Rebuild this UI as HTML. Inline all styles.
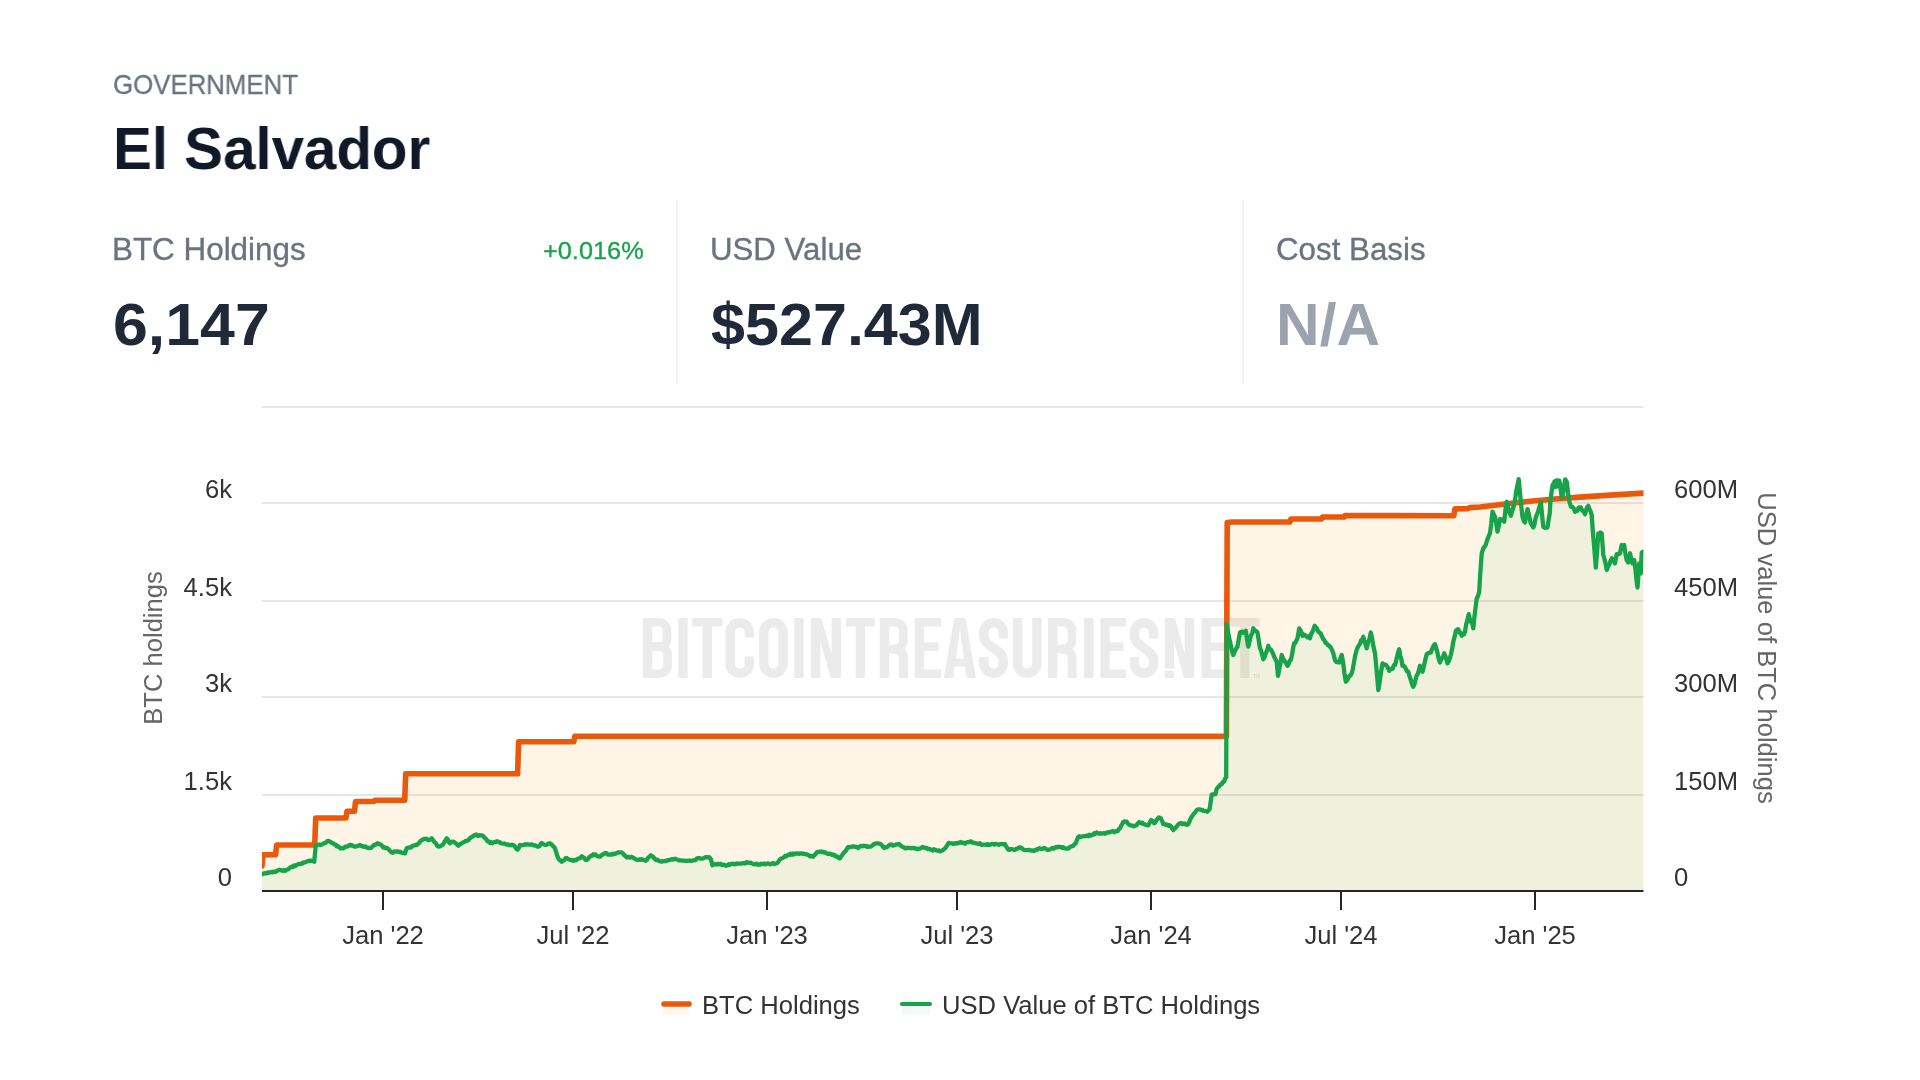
<!DOCTYPE html>
<html lang="en">
<head>
<meta charset="utf-8">
<title>El Salvador – Bitcoin Treasuries</title>
<style>
  html,body{margin:0;padding:0;background:#fff;}
  body{width:1920px;height:1080px;position:relative;overflow:hidden;font-family:"Liberation Sans",sans-serif;}
  .t{position:absolute;white-space:nowrap;line-height:1;transform-origin:0 0;}
  #cat{left:113px;top:70.6px;font-size:27.3px;color:#6b7280;-webkit-text-stroke:0.3px #6b7280;transform:scaleX(0.9457);}
  #name{left:113px;top:119px;font-size:60px;font-weight:bold;color:#111827;transform:scaleX(0.9705);}
  .lbl{font-size:31px;color:#6b7280;top:233.5px;-webkit-text-stroke:0.35px #6b7280;}
  .val{font-size:60px;font-weight:bold;color:#1f2937;top:295.2px;}
  #l1{transform:scaleX(1.0127);} #l2{transform:scaleX(1.007);} #l3{transform:scaleX(1.01);}
  #v1{transform:scaleX(1.044);} #v2{transform:scaleX(1.018);} #v3{transform:scaleX(1.007);}
  #pct{font-size:24px;color:#16a34a;top:239px;left:543px;transform:scaleX(1.055);-webkit-text-stroke:0.3px #16a34a;}
  .vd{position:absolute;top:200px;height:184px;width:2px;background:#f1f2f4;}
  svg{position:absolute;left:0;top:0;will-change:transform;}
  .t{will-change:transform;}
  svg text{font-family:"Liberation Sans",sans-serif;}
</style>
</head>
<body>
<div class="t" id="cat">GOVERNMENT</div>
<div class="t" id="name">El Salvador</div>

<div class="t lbl" id="l1" style="left:112.2px">BTC Holdings</div>
<div class="t" id="pct">+0.016%</div>
<div class="t val" id="v1" style="left:113px">6,147</div>
<div class="vd" style="left:676px"></div>
<div class="t lbl" id="l2" style="left:710.2px">USD Value</div>
<div class="t val" id="v2" style="left:711px">$527.43M</div>
<div class="vd" style="left:1242px"></div>
<div class="t lbl" id="l3" style="left:1276.4px">Cost Basis</div>
<div class="t val" id="v3" style="left:1276.2px;color:#9ca3af">N/A</div>

<svg width="1920" height="1080" viewBox="0 0 1920 1080">
  <!-- grid -->
  <g stroke="#e6e6e6" stroke-width="2" fill="none">
    <path d="M262 407H1643.5M262 503H1643.5M262 601H1643.5M262 697H1643.5M262 795H1643.5"/>
  </g>
  <!-- watermark -->
  <g id="wm" fill="#ebebeb" stroke="#ebebeb" stroke-linejoin="miter">
    <g transform="translate(642.9 618)"><path d="M0 0H9.4V60H0Z" stroke="none"/><path d="M8.4 4.3H15.499999999999998A8.6 8.6 0 0 1 24.099999999999998 12.899999999999999V21.299999999999997A7.1 7.1 0 0 1 15.499999999999998 28.4H8.4" fill="none" stroke-width="8.6"/><path d="M8.4 28.4H16.099999999999998A8.6 8.6 0 0 1 24.7 37.0V47.1A8.6 8.6 0 0 1 16.099999999999998 55.7H8.4" fill="none" stroke-width="8.6"/></g>
    <g transform="translate(678.3 618)"><path d="M0 0H9.4V60H0Z" stroke="none"/></g>
    <g transform="translate(692.25 618)"><path d="M0 0H30V8.6H19.7V60H10.3V8.6H0Z" stroke="none"/></g>
    <g transform="translate(725.4 618)"><path d="M24.0 19.5V14.349999999999998A9.649999999999999 9.649999999999999 0 0 0 4.7 14.349999999999998V45.65A9.649999999999999 9.649999999999999 0 0 0 24.0 45.65V38.5" fill="none" stroke-width="9.4"/></g>
    <g transform="translate(759.1 618)"><path d="M4.7 14.399999999999999A9.7 9.7 0 0 1 24.1 14.399999999999999V45.599999999999994A9.7 9.7 0 0 1 4.7 45.599999999999994Z" fill="none" stroke-width="9.4"/></g>
    <g transform="translate(794.2 618)"><path d="M0 0H9.4V60H0Z" stroke="none"/></g>
    <g transform="translate(811 618)"><path d="M0 0H10.200000000000001L20.6 36V0H30V60H19.8L9.4 24V60H0Z" stroke="none"/></g>
    <g transform="translate(846 618)"><path d="M0 0H28.7V8.6H19.05V60H9.649999999999999V8.6H0Z" stroke="none"/></g>
    <g transform="translate(879.75 618)"><path d="M0 0H9.4V60H0Z" stroke="none"/><path d="M8.4 4.3H14.999999999999998A8.6 8.6 0 0 1 23.599999999999998 12.899999999999999V22.4A8.6 8.6 0 0 1 14.999999999999998 31H8.4" fill="none" stroke-width="8.6"/><path d="M12.999999999999998 31Q23.799999999999997 31 23.799999999999997 41V60" fill="none" stroke-width="9.0"/></g>
    <g transform="translate(914.75 618)"><path d="M0 0H26.25V8.6H9.4V24.6H23.65V33H9.4V51.4H26.25V60H0Z" stroke="none"/></g>
    <g transform="translate(943.75 618)"><path fill-rule="evenodd" stroke="none" d="M0 60L10.525 0H21.725L32.25 60H22.85L21.35 48.4H10.9L9.4 60ZM12.1 40.4H20.15L16.125 11Z"/></g>
    <g transform="translate(979.1 618)"><path d="M24.1 20.5V14.399999999999999A9.7 9.7 0 0 0 4.7 14.399999999999999V18C4.7 29 24.1 31 24.1 42.5V45.599999999999994A9.7 9.7 0 0 1 4.7 45.599999999999994V39" fill="none" stroke-width="9.4"/></g>
    <g transform="translate(1012.9 618)"><path d="M4.7 0V45.65A9.649999999999999 9.649999999999999 0 0 0 24.0 45.65V0" fill="none" stroke-width="9.4"/></g>
    <g transform="translate(1047.9 618)"><path d="M0 0H9.4V60H0Z" stroke="none"/><path d="M8.4 4.3H15.4A8.6 8.6 0 0 1 24.0 12.899999999999999V22.4A8.6 8.6 0 0 1 15.4 31H8.4" fill="none" stroke-width="8.6"/><path d="M13.4 31Q24.2 31 24.2 41V60" fill="none" stroke-width="9.0"/></g>
    <g transform="translate(1084.1 618)"><path d="M0 0H9.4V60H0Z" stroke="none"/></g>
    <g transform="translate(1100.4 618)"><path d="M0 0H25.7V8.6H9.4V24.6H23.099999999999998V33H9.4V51.4H25.7V60H0Z" stroke="none"/></g>
    <g transform="translate(1129.75 618)"><path d="M23.8 20.5V14.25A9.55 9.55 0 0 0 4.7 14.25V18C4.7 29 23.8 31 23.8 42.5V45.75A9.55 9.55 0 0 1 4.7 45.75V39" fill="none" stroke-width="9.4"/></g>
    <g transform="translate(1164.75 618)"><path d="M0 0H10.200000000000001L19.950000000000003 36V0H29.35V60H19.150000000000002L9.4 24V60H0Z" stroke="none"/></g>
    <g transform="translate(1201.6 618)"><path d="M0 0H26V8.6H9.4V24.6H23.4V33H9.4V51.4H26V60H0Z" stroke="none"/></g>
    <g transform="translate(1230 618)"><path d="M0 0H29.75V8.6H19.575V60H10.175V8.6H0Z" stroke="none"/></g>
    <rect x="1163" y="668.6" width="11.2" height="2.2" fill="#fff" stroke="none"/>
    <text x="1253" y="677.5" font-size="5" font-weight="bold" stroke="none" fill="#e4e4e4">TM</text>
    </g>
  <defs><clipPath id="plot"><rect x="262" y="400" width="1381.5" height="492"/></clipPath></defs>
  <!-- series -->
  <g clip-path="url(#plot)">
  <path d="M262.0 866.0 L263.0 854.8 L275.6 854.8 L276.6 845.0 L314.7 845.0 L315.7 818.0 L346.0 818.0 L347.0 811.3 L354.5 811.3 L355.5 801.5 L373.8 801.5 L374.8 800.2 L404.7 800.2 L405.7 773.8 L517.6 773.8 L518.6 741.8 L573.8 741.8 L574.8 736.2 L1226.4 736.2 L1227.2 522.5 L1232.0 522.0 L1289.9 522.0 L1290.9 519.0 L1321.5 519.0 L1322.5 517.0 L1344.0 517.0 L1345.0 515.6 L1453.9 515.7 L1454.9 508.9 L1468.0 508.6 L1470.0 507.6 L1480.0 507.0 L1505.0 504.0 L1530.0 501.2 L1555.0 499.0 L1580.0 497.1 L1610.0 495.1 L1643.5 493.1 L1643.5 891 L262.0 891 Z" fill="#f59e0b" fill-opacity="0.1" stroke="none"/>
  <path d="M262.0 874.2 L263.2 873.7 L264.3 873.2 L265.5 873.5 L266.7 873.0 L267.9 872.4 L269.0 872.8 L270.2 872.4 L271.4 871.9 L272.6 872.3 L273.8 871.6 L275.0 872.0 L276.2 871.4 L277.5 870.5 L278.8 870.0 L280.0 870.0 L281.2 870.1 L282.5 870.8 L283.8 870.2 L285.0 870.8 L286.1 869.8 L287.2 869.6 L288.3 869.3 L289.4 868.1 L290.6 867.2 L291.7 866.7 L292.9 866.9 L294.0 865.4 L295.2 866.0 L296.4 865.0 L297.6 864.5 L298.8 864.1 L300.0 864.2 L301.2 863.5 L302.4 863.6 L303.6 862.3 L304.8 862.4 L306.0 862.0 L307.1 861.2 L308.3 860.8 L309.5 861.1 L310.7 860.6 L311.8 860.8 L313.0 861.1 L314.2 861.7 L315.8 845.0 L317.0 845.2 L318.2 844.8 L319.3 844.5 L320.5 844.9 L321.7 844.7 L322.8 844.0 L323.9 843.1 L325.0 843.2 L326.1 842.4 L327.2 841.1 L328.3 840.8 L329.6 841.6 L330.8 842.1 L332.1 843.2 L333.3 843.3 L334.4 844.4 L335.6 844.6 L336.7 846.3 L337.8 845.9 L338.9 847.1 L340.0 848.0 L341.1 848.5 L342.2 847.8 L343.3 848.3 L344.4 847.7 L345.6 846.5 L346.7 846.7 L347.8 846.2 L348.9 845.4 L350.0 844.7 L351.2 845.7 L352.5 845.4 L353.8 846.4 L355.0 846.7 L356.2 846.4 L357.5 845.9 L358.8 845.4 L360.0 845.0 L361.1 845.9 L362.2 846.4 L363.3 846.2 L364.4 846.9 L365.6 846.5 L366.7 847.5 L367.8 847.9 L368.9 848.0 L370.0 848.0 L371.1 847.9 L372.2 847.0 L373.3 845.5 L374.4 845.0 L375.6 844.6 L376.7 843.7 L377.8 843.2 L378.9 843.9 L380.0 844.2 L381.1 844.8 L382.2 845.9 L383.3 847.5 L384.4 847.1 L385.6 848.2 L386.7 848.0 L387.9 848.6 L389.2 849.9 L390.4 851.2 L391.7 852.5 L392.9 852.7 L394.2 851.4 L395.4 851.6 L396.7 851.3 L397.8 851.5 L398.9 852.1 L400.0 851.7 L401.2 852.5 L402.5 853.0 L403.8 852.6 L405.0 853.3 L406.7 848.3 L407.8 847.8 L408.9 847.4 L410.0 847.7 L411.1 847.5 L412.2 846.0 L413.3 845.7 L414.4 845.4 L415.6 845.0 L416.7 845.0 L417.8 844.0 L418.9 843.2 L420.0 841.8 L421.1 840.4 L422.2 840.0 L423.3 839.2 L424.4 838.8 L425.6 838.9 L426.7 838.7 L427.9 840.0 L429.2 840.0 L430.4 839.4 L431.7 838.3 L432.8 839.7 L433.9 841.3 L435.0 842.7 L436.1 843.3 L437.2 845.8 L438.3 846.7 L439.6 846.4 L440.8 845.9 L442.1 845.2 L443.3 844.2 L444.4 842.1 L445.6 840.1 L446.7 838.3 L447.8 839.4 L448.9 841.9 L450.0 843.3 L451.1 842.2 L452.2 841.6 L453.3 841.7 L454.6 842.3 L455.8 843.3 L457.1 844.6 L458.3 845.8 L459.5 844.5 L460.7 843.7 L461.9 843.2 L463.1 842.4 L464.3 842.1 L465.5 840.9 L466.7 840.8 L467.9 840.5 L469.0 839.3 L470.2 837.8 L471.4 837.1 L472.6 836.4 L473.8 835.6 L475.0 835.0 L476.1 834.5 L477.2 835.6 L478.3 835.9 L479.4 835.2 L480.6 835.3 L481.7 835.3 L482.9 835.8 L484.0 837.0 L485.2 838.4 L486.4 839.4 L487.6 841.3 L488.8 841.4 L490.0 843.0 L491.2 842.1 L492.4 843.2 L493.6 842.5 L494.8 841.7 L496.0 842.1 L497.1 841.2 L498.3 841.7 L499.5 842.1 L500.7 843.2 L501.9 843.5 L503.1 843.7 L504.3 843.5 L505.5 844.1 L506.7 844.7 L507.8 844.3 L508.9 845.2 L510.0 844.9 L511.1 845.3 L512.2 844.7 L513.3 845.0 L514.7 846.2 L516.1 848.5 L517.5 849.7 L518.8 848.0 L520.0 845.0 L521.2 845.3 L522.5 845.0 L523.8 844.8 L525.0 844.2 L526.2 844.7 L527.4 844.1 L528.6 844.7 L529.8 844.6 L531.0 844.4 L532.1 844.5 L533.3 845.3 L534.6 845.4 L535.8 845.7 L537.1 846.6 L538.3 846.7 L539.4 846.1 L540.6 844.1 L541.7 843.0 L542.9 844.0 L544.2 844.5 L545.4 844.9 L546.7 844.7 L547.8 844.0 L548.9 843.4 L550.0 843.3 L551.2 844.2 L552.5 845.4 L553.8 846.7 L555.0 848.3 L556.1 851.8 L557.2 855.5 L558.3 858.3 L559.4 859.9 L560.6 860.5 L561.7 861.7 L562.9 860.9 L564.2 860.2 L565.4 858.4 L566.7 858.0 L567.8 858.7 L568.9 859.5 L570.0 859.8 L571.1 860.2 L572.2 860.3 L573.3 860.8 L574.4 860.0 L575.6 860.4 L576.7 859.7 L577.9 858.6 L579.2 858.4 L580.4 857.8 L581.7 856.3 L582.9 857.1 L584.2 858.0 L585.4 859.6 L586.7 860.0 L587.8 859.3 L588.9 857.6 L590.0 856.6 L591.1 855.7 L592.2 855.7 L593.3 854.2 L594.4 855.0 L595.6 854.5 L596.7 855.8 L597.8 856.4 L598.9 856.5 L600.0 856.7 L601.4 855.4 L602.8 854.5 L604.2 853.3 L605.3 853.1 L606.5 853.2 L607.7 854.7 L608.8 854.6 L610.0 854.7 L611.1 854.4 L612.2 854.7 L613.3 853.7 L614.4 854.0 L615.6 853.7 L616.7 853.0 L617.9 852.5 L619.2 852.4 L620.4 852.4 L621.7 852.5 L622.9 853.4 L624.2 855.1 L625.4 855.9 L626.7 857.5 L627.9 857.3 L629.2 856.8 L630.4 857.6 L631.7 857.0 L632.9 857.5 L634.2 858.3 L635.4 859.1 L636.7 859.7 L637.9 860.0 L639.2 859.3 L640.4 859.8 L641.7 859.2 L643.1 859.7 L644.4 860.3 L645.8 860.8 L647.1 859.5 L648.3 857.5 L649.6 856.6 L650.8 855.3 L652.2 856.2 L653.6 857.3 L655.0 859.2 L656.1 860.0 L657.2 859.6 L658.3 860.4 L659.4 861.1 L660.6 861.3 L661.7 861.7 L662.8 861.2 L663.9 861.2 L665.0 861.1 L666.1 861.1 L667.2 860.1 L668.3 860.3 L669.4 860.1 L670.6 859.5 L671.7 859.2 L672.8 859.6 L673.9 859.0 L675.0 858.7 L676.2 859.2 L677.5 859.8 L678.8 860.4 L680.0 860.3 L681.1 860.3 L682.2 860.6 L683.3 860.6 L684.4 860.7 L685.6 861.0 L686.7 860.8 L687.8 860.7 L688.9 860.7 L690.0 860.6 L691.1 861.0 L692.2 860.7 L693.3 860.3 L694.6 860.2 L695.8 859.7 L697.1 858.3 L698.3 858.0 L699.6 858.2 L700.8 858.7 L702.1 858.7 L703.3 858.3 L704.6 857.5 L705.8 857.2 L707.1 857.3 L708.3 857.0 L709.6 857.5 L710.8 859.2 L712.5 865.3 L713.7 864.7 L714.8 864.1 L716.0 864.5 L717.2 864.3 L718.3 863.7 L719.4 864.4 L720.6 863.8 L721.7 864.8 L722.8 865.0 L723.9 864.6 L725.0 865.3 L726.2 865.6 L727.4 865.4 L728.6 864.3 L729.8 864.9 L731.0 864.0 L732.1 863.9 L733.3 863.7 L734.5 864.3 L735.7 864.1 L736.9 863.3 L738.1 863.6 L739.3 863.7 L740.5 863.5 L741.7 863.7 L742.8 863.1 L743.9 863.1 L745.0 863.4 L746.1 862.3 L747.2 862.8 L748.3 862.5 L749.6 862.8 L750.8 862.7 L752.1 863.5 L753.3 864.2 L754.4 864.3 L755.6 864.2 L756.7 863.6 L757.8 864.8 L758.9 864.5 L760.0 864.7 L761.1 863.7 L762.2 863.9 L763.3 864.2 L764.4 863.5 L765.6 864.4 L766.7 863.7 L767.8 863.4 L768.9 863.7 L770.0 864.3 L771.1 864.1 L772.2 863.3 L773.3 863.1 L774.4 864.0 L775.6 863.5 L776.7 863.3 L777.9 862.3 L779.2 860.3 L780.4 859.0 L781.7 858.3 L782.8 858.0 L783.9 857.0 L785.0 856.0 L786.1 856.5 L787.2 855.5 L788.3 854.7 L789.4 854.9 L790.6 853.8 L791.7 854.7 L792.8 853.5 L793.9 854.4 L795.0 853.7 L796.1 853.4 L797.2 853.6 L798.3 853.3 L799.4 854.0 L800.6 853.3 L801.7 853.3 L802.8 853.9 L803.9 853.7 L805.0 854.2 L806.2 854.2 L807.5 854.8 L808.8 855.2 L810.0 856.3 L811.1 856.1 L812.2 856.3 L813.3 856.7 L814.4 855.0 L815.6 854.2 L816.7 852.5 L817.8 851.9 L818.9 851.9 L820.0 851.7 L821.1 851.5 L822.2 852.0 L823.3 851.9 L824.4 852.5 L825.6 852.4 L826.7 853.3 L827.8 853.9 L828.9 853.8 L830.0 853.6 L831.1 854.2 L832.2 855.0 L833.3 854.7 L834.4 854.8 L835.6 856.3 L836.7 856.4 L837.8 857.1 L838.9 858.1 L840.0 858.3 L841.1 856.5 L842.2 855.0 L843.3 853.3 L844.6 852.0 L845.8 850.8 L847.1 848.4 L848.3 847.0 L849.6 847.3 L850.8 846.9 L852.1 846.7 L853.3 846.3 L854.6 846.6 L855.8 847.0 L857.1 847.0 L858.3 848.0 L859.4 846.8 L860.6 846.0 L861.7 845.8 L862.8 846.3 L863.9 845.8 L865.0 845.8 L866.1 845.8 L867.2 847.0 L868.3 846.7 L870.0 846.7 L871.2 846.4 L872.5 845.4 L873.8 844.1 L875.0 843.7 L876.2 843.3 L877.5 843.4 L878.8 843.6 L880.0 843.7 L881.4 844.6 L882.8 846.5 L884.2 848.0 L885.3 847.0 L886.5 847.3 L887.7 846.6 L888.8 845.4 L890.0 844.7 L891.4 844.5 L892.8 845.7 L894.2 845.3 L895.6 844.7 L896.9 844.4 L898.3 844.2 L899.4 844.2 L900.6 845.4 L901.7 846.2 L902.8 846.9 L903.9 847.2 L905.0 848.3 L906.1 848.3 L907.2 847.7 L908.3 848.0 L909.4 847.8 L910.6 848.2 L911.7 848.3 L912.8 847.9 L913.9 848.0 L915.0 848.5 L916.1 848.5 L917.2 849.1 L918.3 849.2 L919.7 848.5 L921.1 848.1 L922.5 847.0 L923.9 847.5 L925.3 848.0 L926.7 848.0 L927.9 849.0 L929.2 848.9 L930.4 849.3 L931.7 850.0 L932.8 850.5 L933.9 849.3 L935.0 849.7 L936.2 850.4 L937.5 850.7 L938.8 850.3 L940.0 851.3 L941.2 851.0 L942.5 850.4 L943.8 849.3 L945.0 848.3 L946.1 847.0 L947.2 845.4 L948.3 843.3 L949.4 842.8 L950.6 843.4 L951.7 843.3 L952.8 843.8 L953.9 843.8 L955.0 843.3 L956.2 843.5 L957.3 842.9 L958.5 843.1 L959.7 842.5 L960.8 842.0 L962.2 842.8 L963.6 842.7 L965.0 843.7 L966.2 842.5 L967.5 842.2 L968.8 842.0 L970.0 841.7 L971.1 841.4 L972.2 842.7 L973.3 842.6 L974.4 843.0 L975.6 843.2 L976.7 843.3 L977.8 843.8 L978.9 843.8 L980.0 843.3 L981.1 844.6 L982.2 844.8 L983.3 844.7 L984.4 844.7 L985.6 844.7 L986.7 844.9 L987.8 844.1 L988.9 845.0 L990.0 844.7 L991.1 844.2 L992.2 843.9 L993.3 844.1 L994.4 844.6 L995.6 843.8 L996.7 844.2 L997.9 844.5 L999.0 844.8 L1000.2 844.2 L1001.4 844.0 L1002.6 844.1 L1003.8 844.4 L1005.0 844.2 L1006.1 846.4 L1007.2 848.0 L1008.3 849.7 L1009.4 849.9 L1010.6 849.1 L1011.7 849.2 L1012.8 849.3 L1013.9 850.0 L1015.0 849.7 L1016.2 848.9 L1017.5 848.7 L1018.8 847.4 L1020.0 847.5 L1021.1 847.6 L1022.2 848.6 L1023.3 849.7 L1024.6 850.0 L1025.8 850.1 L1027.1 850.2 L1028.3 850.0 L1029.5 849.9 L1030.7 850.4 L1031.8 850.5 L1033.0 850.6 L1034.2 850.8 L1035.6 849.6 L1036.9 849.9 L1038.3 848.7 L1039.6 848.2 L1040.8 849.1 L1042.1 849.0 L1043.3 848.3 L1044.5 848.0 L1045.7 848.8 L1046.8 849.6 L1048.0 850.0 L1049.2 849.7 L1050.3 849.2 L1051.5 848.5 L1052.7 848.0 L1053.8 848.5 L1055.0 847.5 L1056.2 847.0 L1057.3 847.4 L1058.5 846.7 L1059.7 847.1 L1060.8 847.0 L1062.0 847.9 L1063.2 847.2 L1064.3 848.4 L1065.5 848.3 L1066.7 848.7 L1067.9 848.6 L1069.2 847.8 L1070.4 846.6 L1071.7 846.3 L1073.1 845.9 L1074.4 844.3 L1075.8 843.3 L1077.1 839.5 L1078.3 837.0 L1079.4 836.2 L1080.6 836.8 L1081.7 836.6 L1082.8 836.3 L1083.9 835.9 L1085.0 836.3 L1086.1 835.9 L1087.2 835.6 L1088.3 836.2 L1089.4 834.7 L1090.6 835.6 L1091.7 835.0 L1092.9 834.9 L1094.2 833.2 L1095.4 833.7 L1096.7 832.5 L1097.9 833.1 L1099.2 833.7 L1100.4 833.1 L1101.7 833.7 L1102.8 833.3 L1103.9 833.1 L1105.0 833.8 L1106.1 833.0 L1107.2 832.5 L1108.3 832.5 L1109.5 832.2 L1110.7 831.8 L1111.9 831.3 L1113.1 831.2 L1114.3 832.2 L1115.5 831.2 L1116.7 831.3 L1117.8 831.0 L1118.9 829.0 L1120.0 828.3 L1121.1 825.9 L1122.2 824.1 L1123.3 822.0 L1124.4 821.4 L1125.6 821.6 L1126.7 821.7 L1127.8 823.5 L1128.9 824.5 L1130.0 825.0 L1131.2 825.7 L1132.5 825.6 L1133.8 826.3 L1135.0 825.8 L1136.4 825.2 L1137.8 823.4 L1139.2 822.0 L1140.0 822.5 L1141.2 823.3 L1142.4 822.6 L1143.6 824.1 L1144.8 824.1 L1146.0 825.0 L1147.1 825.2 L1148.3 825.4 L1149.8 822.4 L1151.2 820.0 L1152.7 821.0 L1154.2 823.3 L1155.3 822.5 L1156.5 819.8 L1157.6 818.9 L1158.8 817.5 L1160.8 818.3 L1162.1 821.0 L1163.3 824.2 L1164.7 824.0 L1166.1 824.8 L1167.5 824.6 L1168.6 825.9 L1169.7 825.3 L1170.8 826.2 L1172.1 828.4 L1173.3 830.0 L1174.4 828.6 L1175.6 827.9 L1176.7 826.5 L1177.8 825.0 L1178.9 823.9 L1180.0 823.3 L1181.2 823.0 L1182.4 824.2 L1183.6 823.7 L1184.8 823.4 L1186.0 824.6 L1187.1 824.8 L1188.3 824.2 L1189.6 821.2 L1190.8 818.3 L1191.9 816.3 L1193.1 814.9 L1194.2 813.3 L1195.3 812.2 L1196.4 810.4 L1197.5 809.6 L1198.8 809.3 L1200.0 809.4 L1201.2 810.0 L1202.5 810.0 L1203.8 811.1 L1205.0 811.2 L1206.2 811.1 L1207.5 811.7 L1209.6 809.2 L1211.7 794.6 L1212.9 794.3 L1214.2 794.3 L1215.4 794.2 L1216.7 788.8 L1217.9 787.4 L1219.2 786.2 L1220.4 784.5 L1221.7 784.2 L1222.8 782.1 L1224.0 781.7 L1225.1 778.5 L1226.2 777.5 L1226.7 624.2 L1227.9 631.3 L1229.2 638.3 L1230.6 644.3 L1231.9 650.5 L1233.3 655.0 L1234.7 651.4 L1236.1 648.8 L1237.5 646.7 L1238.8 638.8 L1240.0 632.5 L1241.2 631.9 L1242.3 631.7 L1243.5 632.9 L1244.7 632.2 L1245.8 630.8 L1247.1 639.9 L1248.3 646.7 L1249.6 640.7 L1250.8 636.1 L1252.1 633.6 L1253.3 628.3 L1254.7 630.9 L1256.1 631.0 L1257.5 632.5 L1258.8 640.7 L1260.0 648.3 L1261.1 650.5 L1262.2 655.2 L1263.3 659.2 L1264.6 657.1 L1265.8 653.4 L1267.1 650.2 L1268.3 645.8 L1269.5 649.4 L1270.7 649.4 L1271.8 651.2 L1273.0 653.5 L1274.2 656.7 L1275.4 659.2 L1276.7 661.7 L1278.0 675.8 L1279.2 669.4 L1280.4 663.2 L1281.7 655.0 L1282.8 657.8 L1284.0 659.8 L1285.2 662.3 L1286.3 663.5 L1287.5 665.8 L1288.6 664.0 L1289.7 660.6 L1290.8 660.0 L1291.9 655.3 L1293.1 648.1 L1294.2 643.3 L1295.3 642.9 L1296.4 640.4 L1297.5 638.3 L1299.2 628.3 L1300.3 630.2 L1301.4 632.2 L1302.5 635.8 L1303.8 634.7 L1305.0 635.0 L1306.2 636.2 L1307.5 637.3 L1308.8 636.3 L1310.0 638.3 L1311.2 633.9 L1312.3 632.2 L1313.5 629.2 L1314.7 625.8 L1315.8 627.2 L1316.9 628.3 L1318.0 631.1 L1319.2 632.5 L1320.6 633.2 L1321.9 636.3 L1323.3 639.2 L1324.4 640.3 L1325.6 643.0 L1326.7 643.3 L1327.8 645.3 L1328.9 645.3 L1330.0 646.7 L1331.1 648.1 L1332.2 650.4 L1333.3 653.3 L1335.0 660.0 L1336.4 662.1 L1337.8 662.2 L1339.2 662.5 L1340.4 658.2 L1341.7 655.0 L1343.1 662.5 L1344.4 672.8 L1345.8 681.7 L1347.0 680.5 L1348.2 678.1 L1349.3 676.0 L1350.5 675.5 L1351.7 673.3 L1352.9 668.7 L1354.2 660.9 L1355.4 654.5 L1356.7 650.0 L1357.8 647.3 L1358.9 645.3 L1360.0 643.9 L1361.1 640.2 L1362.2 639.8 L1363.3 636.7 L1364.4 641.3 L1365.6 644.5 L1366.7 648.3 L1368.1 642.2 L1369.4 639.2 L1370.8 632.5 L1372.2 638.9 L1373.6 647.3 L1375.0 653.3 L1376.1 664.8 L1377.2 677.0 L1378.3 690.0 L1379.7 681.8 L1381.1 671.7 L1382.5 663.3 L1383.6 665.2 L1384.7 664.4 L1385.8 665.0 L1386.9 666.1 L1388.1 668.1 L1389.2 670.8 L1390.3 669.4 L1391.5 669.0 L1392.7 668.6 L1393.8 665.2 L1395.0 665.0 L1396.4 659.4 L1397.8 653.6 L1399.2 649.2 L1400.3 656.1 L1401.4 659.3 L1402.5 665.8 L1403.7 665.7 L1404.8 666.9 L1406.0 669.0 L1407.2 671.6 L1408.3 671.7 L1409.6 676.5 L1410.8 679.8 L1412.1 684.2 L1413.3 686.7 L1414.4 684.3 L1415.6 679.3 L1416.7 675.4 L1417.8 674.0 L1418.9 670.0 L1420.0 665.8 L1421.2 667.4 L1422.5 671.7 L1423.9 666.3 L1425.3 659.7 L1426.7 654.2 L1428.1 653.2 L1429.4 652.6 L1430.8 652.5 L1432.2 648.8 L1433.6 645.5 L1435.0 644.2 L1436.2 648.1 L1437.5 652.9 L1438.8 659.2 L1440.0 662.5 L1441.4 658.4 L1442.8 657.7 L1444.2 653.3 L1445.3 655.8 L1446.4 659.6 L1447.5 663.3 L1448.6 661.5 L1449.7 658.7 L1450.8 655.0 L1452.1 648.8 L1453.3 641.6 L1454.6 636.8 L1455.8 630.8 L1457.1 629.6 L1458.3 629.2 L1459.4 632.7 L1460.6 632.7 L1461.7 635.8 L1462.8 634.0 L1463.9 634.3 L1465.0 631.7 L1466.2 624.4 L1467.4 619.7 L1468.7 614.2 L1469.8 618.7 L1471.0 622.1 L1472.2 623.4 L1473.3 628.3 L1474.4 616.9 L1475.6 606.9 L1476.7 598.3 L1477.9 596.3 L1479.2 591.7 L1480.4 571.7 L1481.7 553.3 L1483.3 548.3 L1484.4 546.9 L1485.6 545.2 L1486.7 541.7 L1487.8 538.4 L1488.9 535.4 L1490.0 533.3 L1491.2 524.0 L1492.5 511.7 L1493.8 514.5 L1495.0 516.7 L1496.2 523.4 L1497.5 531.7 L1498.8 526.1 L1500.0 519.2 L1501.4 519.4 L1502.8 520.1 L1504.2 521.7 L1505.4 510.1 L1506.7 501.7 L1508.1 507.2 L1509.4 512.4 L1510.8 515.8 L1512.2 511.0 L1513.6 506.7 L1515.0 500.0 L1516.2 491.5 L1517.4 485.3 L1518.7 479.2 L1519.9 491.6 L1521.2 505.6 L1522.5 516.7 L1523.8 521.0 L1525.0 522.5 L1526.2 515.5 L1527.5 509.2 L1528.6 513.1 L1529.7 518.4 L1530.8 523.3 L1532.1 525.4 L1533.3 527.5 L1534.4 524.7 L1535.6 518.2 L1536.7 515.0 L1538.1 511.5 L1539.4 506.9 L1540.8 501.7 L1542.1 515.2 L1543.3 526.7 L1544.7 527.8 L1546.1 527.6 L1547.5 527.5 L1548.6 519.7 L1549.8 513.0 L1550.4 501.3 L1551.4 493.0 L1552.7 484.7 L1553.6 487.5 L1554.4 481.5 L1555.6 486.8 L1556.8 480.3 L1558.1 486.2 L1559.3 480.5 L1560.2 484.7 L1561.8 498.0 L1563.5 491.3 L1565.2 479.3 L1566.8 481.8 L1568.1 493.0 L1569.3 501.3 L1571.0 506.8 L1572.2 506.8 L1573.5 508.0 L1575.0 511.7 L1576.2 510.4 L1577.3 510.9 L1578.5 507.8 L1579.7 507.4 L1580.8 507.5 L1582.2 510.5 L1583.6 511.1 L1585.0 514.2 L1586.1 510.0 L1587.2 507.1 L1588.3 505.8 L1589.4 509.1 L1590.6 511.4 L1591.7 515.0 L1592.9 532.4 L1594.2 546.7 L1595.8 567.5 L1597.1 551.6 L1598.3 533.3 L1599.4 534.9 L1600.6 532.6 L1601.7 533.3 L1603.3 555.0 L1604.4 558.7 L1605.6 563.7 L1606.7 570.0 L1607.9 567.1 L1609.2 564.8 L1610.4 561.1 L1611.7 558.3 L1612.8 559.1 L1613.9 561.4 L1615.0 563.3 L1616.7 554.2 L1617.8 554.3 L1618.9 554.2 L1620.0 553.3 L1621.7 545.0 L1622.9 545.8 L1624.2 545.0 L1625.4 553.6 L1626.7 560.0 L1628.3 562.5 L1630.0 553.3 L1631.2 558.9 L1632.5 563.3 L1634.2 560.0 L1635.3 568.0 L1636.4 579.4 L1637.5 587.5 L1639.2 563.3 L1640.8 573.3 L1641.7 552.5 L1643.5 551.7 L1643.5 891 L262.0 891 Z" fill="#16a34a" fill-opacity="0.06" stroke="none"/>
  <path d="M262.0 866.0 L263.0 854.8 L275.6 854.8 L276.6 845.0 L314.7 845.0 L315.7 818.0 L346.0 818.0 L347.0 811.3 L354.5 811.3 L355.5 801.5 L373.8 801.5 L374.8 800.2 L404.7 800.2 L405.7 773.8 L517.6 773.8 L518.6 741.8 L573.8 741.8 L574.8 736.2 L1226.4 736.2 L1227.2 522.5 L1232.0 522.0 L1289.9 522.0 L1290.9 519.0 L1321.5 519.0 L1322.5 517.0 L1344.0 517.0 L1345.0 515.6 L1453.9 515.7 L1454.9 508.9 L1468.0 508.6 L1470.0 507.6 L1480.0 507.0 L1505.0 504.0 L1530.0 501.2 L1555.0 499.0 L1580.0 497.1 L1610.0 495.1 L1643.5 493.1" fill="none" stroke="#ea580c" stroke-width="5.6" stroke-linejoin="round" stroke-linecap="round"/>
  <path d="M262.0 874.2 L263.2 873.7 L264.3 873.2 L265.5 873.5 L266.7 873.0 L267.9 872.4 L269.0 872.8 L270.2 872.4 L271.4 871.9 L272.6 872.3 L273.8 871.6 L275.0 872.0 L276.2 871.4 L277.5 870.5 L278.8 870.0 L280.0 870.0 L281.2 870.1 L282.5 870.8 L283.8 870.2 L285.0 870.8 L286.1 869.8 L287.2 869.6 L288.3 869.3 L289.4 868.1 L290.6 867.2 L291.7 866.7 L292.9 866.9 L294.0 865.4 L295.2 866.0 L296.4 865.0 L297.6 864.5 L298.8 864.1 L300.0 864.2 L301.2 863.5 L302.4 863.6 L303.6 862.3 L304.8 862.4 L306.0 862.0 L307.1 861.2 L308.3 860.8 L309.5 861.1 L310.7 860.6 L311.8 860.8 L313.0 861.1 L314.2 861.7 L315.8 845.0 L317.0 845.2 L318.2 844.8 L319.3 844.5 L320.5 844.9 L321.7 844.7 L322.8 844.0 L323.9 843.1 L325.0 843.2 L326.1 842.4 L327.2 841.1 L328.3 840.8 L329.6 841.6 L330.8 842.1 L332.1 843.2 L333.3 843.3 L334.4 844.4 L335.6 844.6 L336.7 846.3 L337.8 845.9 L338.9 847.1 L340.0 848.0 L341.1 848.5 L342.2 847.8 L343.3 848.3 L344.4 847.7 L345.6 846.5 L346.7 846.7 L347.8 846.2 L348.9 845.4 L350.0 844.7 L351.2 845.7 L352.5 845.4 L353.8 846.4 L355.0 846.7 L356.2 846.4 L357.5 845.9 L358.8 845.4 L360.0 845.0 L361.1 845.9 L362.2 846.4 L363.3 846.2 L364.4 846.9 L365.6 846.5 L366.7 847.5 L367.8 847.9 L368.9 848.0 L370.0 848.0 L371.1 847.9 L372.2 847.0 L373.3 845.5 L374.4 845.0 L375.6 844.6 L376.7 843.7 L377.8 843.2 L378.9 843.9 L380.0 844.2 L381.1 844.8 L382.2 845.9 L383.3 847.5 L384.4 847.1 L385.6 848.2 L386.7 848.0 L387.9 848.6 L389.2 849.9 L390.4 851.2 L391.7 852.5 L392.9 852.7 L394.2 851.4 L395.4 851.6 L396.7 851.3 L397.8 851.5 L398.9 852.1 L400.0 851.7 L401.2 852.5 L402.5 853.0 L403.8 852.6 L405.0 853.3 L406.7 848.3 L407.8 847.8 L408.9 847.4 L410.0 847.7 L411.1 847.5 L412.2 846.0 L413.3 845.7 L414.4 845.4 L415.6 845.0 L416.7 845.0 L417.8 844.0 L418.9 843.2 L420.0 841.8 L421.1 840.4 L422.2 840.0 L423.3 839.2 L424.4 838.8 L425.6 838.9 L426.7 838.7 L427.9 840.0 L429.2 840.0 L430.4 839.4 L431.7 838.3 L432.8 839.7 L433.9 841.3 L435.0 842.7 L436.1 843.3 L437.2 845.8 L438.3 846.7 L439.6 846.4 L440.8 845.9 L442.1 845.2 L443.3 844.2 L444.4 842.1 L445.6 840.1 L446.7 838.3 L447.8 839.4 L448.9 841.9 L450.0 843.3 L451.1 842.2 L452.2 841.6 L453.3 841.7 L454.6 842.3 L455.8 843.3 L457.1 844.6 L458.3 845.8 L459.5 844.5 L460.7 843.7 L461.9 843.2 L463.1 842.4 L464.3 842.1 L465.5 840.9 L466.7 840.8 L467.9 840.5 L469.0 839.3 L470.2 837.8 L471.4 837.1 L472.6 836.4 L473.8 835.6 L475.0 835.0 L476.1 834.5 L477.2 835.6 L478.3 835.9 L479.4 835.2 L480.6 835.3 L481.7 835.3 L482.9 835.8 L484.0 837.0 L485.2 838.4 L486.4 839.4 L487.6 841.3 L488.8 841.4 L490.0 843.0 L491.2 842.1 L492.4 843.2 L493.6 842.5 L494.8 841.7 L496.0 842.1 L497.1 841.2 L498.3 841.7 L499.5 842.1 L500.7 843.2 L501.9 843.5 L503.1 843.7 L504.3 843.5 L505.5 844.1 L506.7 844.7 L507.8 844.3 L508.9 845.2 L510.0 844.9 L511.1 845.3 L512.2 844.7 L513.3 845.0 L514.7 846.2 L516.1 848.5 L517.5 849.7 L518.8 848.0 L520.0 845.0 L521.2 845.3 L522.5 845.0 L523.8 844.8 L525.0 844.2 L526.2 844.7 L527.4 844.1 L528.6 844.7 L529.8 844.6 L531.0 844.4 L532.1 844.5 L533.3 845.3 L534.6 845.4 L535.8 845.7 L537.1 846.6 L538.3 846.7 L539.4 846.1 L540.6 844.1 L541.7 843.0 L542.9 844.0 L544.2 844.5 L545.4 844.9 L546.7 844.7 L547.8 844.0 L548.9 843.4 L550.0 843.3 L551.2 844.2 L552.5 845.4 L553.8 846.7 L555.0 848.3 L556.1 851.8 L557.2 855.5 L558.3 858.3 L559.4 859.9 L560.6 860.5 L561.7 861.7 L562.9 860.9 L564.2 860.2 L565.4 858.4 L566.7 858.0 L567.8 858.7 L568.9 859.5 L570.0 859.8 L571.1 860.2 L572.2 860.3 L573.3 860.8 L574.4 860.0 L575.6 860.4 L576.7 859.7 L577.9 858.6 L579.2 858.4 L580.4 857.8 L581.7 856.3 L582.9 857.1 L584.2 858.0 L585.4 859.6 L586.7 860.0 L587.8 859.3 L588.9 857.6 L590.0 856.6 L591.1 855.7 L592.2 855.7 L593.3 854.2 L594.4 855.0 L595.6 854.5 L596.7 855.8 L597.8 856.4 L598.9 856.5 L600.0 856.7 L601.4 855.4 L602.8 854.5 L604.2 853.3 L605.3 853.1 L606.5 853.2 L607.7 854.7 L608.8 854.6 L610.0 854.7 L611.1 854.4 L612.2 854.7 L613.3 853.7 L614.4 854.0 L615.6 853.7 L616.7 853.0 L617.9 852.5 L619.2 852.4 L620.4 852.4 L621.7 852.5 L622.9 853.4 L624.2 855.1 L625.4 855.9 L626.7 857.5 L627.9 857.3 L629.2 856.8 L630.4 857.6 L631.7 857.0 L632.9 857.5 L634.2 858.3 L635.4 859.1 L636.7 859.7 L637.9 860.0 L639.2 859.3 L640.4 859.8 L641.7 859.2 L643.1 859.7 L644.4 860.3 L645.8 860.8 L647.1 859.5 L648.3 857.5 L649.6 856.6 L650.8 855.3 L652.2 856.2 L653.6 857.3 L655.0 859.2 L656.1 860.0 L657.2 859.6 L658.3 860.4 L659.4 861.1 L660.6 861.3 L661.7 861.7 L662.8 861.2 L663.9 861.2 L665.0 861.1 L666.1 861.1 L667.2 860.1 L668.3 860.3 L669.4 860.1 L670.6 859.5 L671.7 859.2 L672.8 859.6 L673.9 859.0 L675.0 858.7 L676.2 859.2 L677.5 859.8 L678.8 860.4 L680.0 860.3 L681.1 860.3 L682.2 860.6 L683.3 860.6 L684.4 860.7 L685.6 861.0 L686.7 860.8 L687.8 860.7 L688.9 860.7 L690.0 860.6 L691.1 861.0 L692.2 860.7 L693.3 860.3 L694.6 860.2 L695.8 859.7 L697.1 858.3 L698.3 858.0 L699.6 858.2 L700.8 858.7 L702.1 858.7 L703.3 858.3 L704.6 857.5 L705.8 857.2 L707.1 857.3 L708.3 857.0 L709.6 857.5 L710.8 859.2 L712.5 865.3 L713.7 864.7 L714.8 864.1 L716.0 864.5 L717.2 864.3 L718.3 863.7 L719.4 864.4 L720.6 863.8 L721.7 864.8 L722.8 865.0 L723.9 864.6 L725.0 865.3 L726.2 865.6 L727.4 865.4 L728.6 864.3 L729.8 864.9 L731.0 864.0 L732.1 863.9 L733.3 863.7 L734.5 864.3 L735.7 864.1 L736.9 863.3 L738.1 863.6 L739.3 863.7 L740.5 863.5 L741.7 863.7 L742.8 863.1 L743.9 863.1 L745.0 863.4 L746.1 862.3 L747.2 862.8 L748.3 862.5 L749.6 862.8 L750.8 862.7 L752.1 863.5 L753.3 864.2 L754.4 864.3 L755.6 864.2 L756.7 863.6 L757.8 864.8 L758.9 864.5 L760.0 864.7 L761.1 863.7 L762.2 863.9 L763.3 864.2 L764.4 863.5 L765.6 864.4 L766.7 863.7 L767.8 863.4 L768.9 863.7 L770.0 864.3 L771.1 864.1 L772.2 863.3 L773.3 863.1 L774.4 864.0 L775.6 863.5 L776.7 863.3 L777.9 862.3 L779.2 860.3 L780.4 859.0 L781.7 858.3 L782.8 858.0 L783.9 857.0 L785.0 856.0 L786.1 856.5 L787.2 855.5 L788.3 854.7 L789.4 854.9 L790.6 853.8 L791.7 854.7 L792.8 853.5 L793.9 854.4 L795.0 853.7 L796.1 853.4 L797.2 853.6 L798.3 853.3 L799.4 854.0 L800.6 853.3 L801.7 853.3 L802.8 853.9 L803.9 853.7 L805.0 854.2 L806.2 854.2 L807.5 854.8 L808.8 855.2 L810.0 856.3 L811.1 856.1 L812.2 856.3 L813.3 856.7 L814.4 855.0 L815.6 854.2 L816.7 852.5 L817.8 851.9 L818.9 851.9 L820.0 851.7 L821.1 851.5 L822.2 852.0 L823.3 851.9 L824.4 852.5 L825.6 852.4 L826.7 853.3 L827.8 853.9 L828.9 853.8 L830.0 853.6 L831.1 854.2 L832.2 855.0 L833.3 854.7 L834.4 854.8 L835.6 856.3 L836.7 856.4 L837.8 857.1 L838.9 858.1 L840.0 858.3 L841.1 856.5 L842.2 855.0 L843.3 853.3 L844.6 852.0 L845.8 850.8 L847.1 848.4 L848.3 847.0 L849.6 847.3 L850.8 846.9 L852.1 846.7 L853.3 846.3 L854.6 846.6 L855.8 847.0 L857.1 847.0 L858.3 848.0 L859.4 846.8 L860.6 846.0 L861.7 845.8 L862.8 846.3 L863.9 845.8 L865.0 845.8 L866.1 845.8 L867.2 847.0 L868.3 846.7 L870.0 846.7 L871.2 846.4 L872.5 845.4 L873.8 844.1 L875.0 843.7 L876.2 843.3 L877.5 843.4 L878.8 843.6 L880.0 843.7 L881.4 844.6 L882.8 846.5 L884.2 848.0 L885.3 847.0 L886.5 847.3 L887.7 846.6 L888.8 845.4 L890.0 844.7 L891.4 844.5 L892.8 845.7 L894.2 845.3 L895.6 844.7 L896.9 844.4 L898.3 844.2 L899.4 844.2 L900.6 845.4 L901.7 846.2 L902.8 846.9 L903.9 847.2 L905.0 848.3 L906.1 848.3 L907.2 847.7 L908.3 848.0 L909.4 847.8 L910.6 848.2 L911.7 848.3 L912.8 847.9 L913.9 848.0 L915.0 848.5 L916.1 848.5 L917.2 849.1 L918.3 849.2 L919.7 848.5 L921.1 848.1 L922.5 847.0 L923.9 847.5 L925.3 848.0 L926.7 848.0 L927.9 849.0 L929.2 848.9 L930.4 849.3 L931.7 850.0 L932.8 850.5 L933.9 849.3 L935.0 849.7 L936.2 850.4 L937.5 850.7 L938.8 850.3 L940.0 851.3 L941.2 851.0 L942.5 850.4 L943.8 849.3 L945.0 848.3 L946.1 847.0 L947.2 845.4 L948.3 843.3 L949.4 842.8 L950.6 843.4 L951.7 843.3 L952.8 843.8 L953.9 843.8 L955.0 843.3 L956.2 843.5 L957.3 842.9 L958.5 843.1 L959.7 842.5 L960.8 842.0 L962.2 842.8 L963.6 842.7 L965.0 843.7 L966.2 842.5 L967.5 842.2 L968.8 842.0 L970.0 841.7 L971.1 841.4 L972.2 842.7 L973.3 842.6 L974.4 843.0 L975.6 843.2 L976.7 843.3 L977.8 843.8 L978.9 843.8 L980.0 843.3 L981.1 844.6 L982.2 844.8 L983.3 844.7 L984.4 844.7 L985.6 844.7 L986.7 844.9 L987.8 844.1 L988.9 845.0 L990.0 844.7 L991.1 844.2 L992.2 843.9 L993.3 844.1 L994.4 844.6 L995.6 843.8 L996.7 844.2 L997.9 844.5 L999.0 844.8 L1000.2 844.2 L1001.4 844.0 L1002.6 844.1 L1003.8 844.4 L1005.0 844.2 L1006.1 846.4 L1007.2 848.0 L1008.3 849.7 L1009.4 849.9 L1010.6 849.1 L1011.7 849.2 L1012.8 849.3 L1013.9 850.0 L1015.0 849.7 L1016.2 848.9 L1017.5 848.7 L1018.8 847.4 L1020.0 847.5 L1021.1 847.6 L1022.2 848.6 L1023.3 849.7 L1024.6 850.0 L1025.8 850.1 L1027.1 850.2 L1028.3 850.0 L1029.5 849.9 L1030.7 850.4 L1031.8 850.5 L1033.0 850.6 L1034.2 850.8 L1035.6 849.6 L1036.9 849.9 L1038.3 848.7 L1039.6 848.2 L1040.8 849.1 L1042.1 849.0 L1043.3 848.3 L1044.5 848.0 L1045.7 848.8 L1046.8 849.6 L1048.0 850.0 L1049.2 849.7 L1050.3 849.2 L1051.5 848.5 L1052.7 848.0 L1053.8 848.5 L1055.0 847.5 L1056.2 847.0 L1057.3 847.4 L1058.5 846.7 L1059.7 847.1 L1060.8 847.0 L1062.0 847.9 L1063.2 847.2 L1064.3 848.4 L1065.5 848.3 L1066.7 848.7 L1067.9 848.6 L1069.2 847.8 L1070.4 846.6 L1071.7 846.3 L1073.1 845.9 L1074.4 844.3 L1075.8 843.3 L1077.1 839.5 L1078.3 837.0 L1079.4 836.2 L1080.6 836.8 L1081.7 836.6 L1082.8 836.3 L1083.9 835.9 L1085.0 836.3 L1086.1 835.9 L1087.2 835.6 L1088.3 836.2 L1089.4 834.7 L1090.6 835.6 L1091.7 835.0 L1092.9 834.9 L1094.2 833.2 L1095.4 833.7 L1096.7 832.5 L1097.9 833.1 L1099.2 833.7 L1100.4 833.1 L1101.7 833.7 L1102.8 833.3 L1103.9 833.1 L1105.0 833.8 L1106.1 833.0 L1107.2 832.5 L1108.3 832.5 L1109.5 832.2 L1110.7 831.8 L1111.9 831.3 L1113.1 831.2 L1114.3 832.2 L1115.5 831.2 L1116.7 831.3 L1117.8 831.0 L1118.9 829.0 L1120.0 828.3 L1121.1 825.9 L1122.2 824.1 L1123.3 822.0 L1124.4 821.4 L1125.6 821.6 L1126.7 821.7 L1127.8 823.5 L1128.9 824.5 L1130.0 825.0 L1131.2 825.7 L1132.5 825.6 L1133.8 826.3 L1135.0 825.8 L1136.4 825.2 L1137.8 823.4 L1139.2 822.0 L1140.0 822.5 L1141.2 823.3 L1142.4 822.6 L1143.6 824.1 L1144.8 824.1 L1146.0 825.0 L1147.1 825.2 L1148.3 825.4 L1149.8 822.4 L1151.2 820.0 L1152.7 821.0 L1154.2 823.3 L1155.3 822.5 L1156.5 819.8 L1157.6 818.9 L1158.8 817.5 L1160.8 818.3 L1162.1 821.0 L1163.3 824.2 L1164.7 824.0 L1166.1 824.8 L1167.5 824.6 L1168.6 825.9 L1169.7 825.3 L1170.8 826.2 L1172.1 828.4 L1173.3 830.0 L1174.4 828.6 L1175.6 827.9 L1176.7 826.5 L1177.8 825.0 L1178.9 823.9 L1180.0 823.3 L1181.2 823.0 L1182.4 824.2 L1183.6 823.7 L1184.8 823.4 L1186.0 824.6 L1187.1 824.8 L1188.3 824.2 L1189.6 821.2 L1190.8 818.3 L1191.9 816.3 L1193.1 814.9 L1194.2 813.3 L1195.3 812.2 L1196.4 810.4 L1197.5 809.6 L1198.8 809.3 L1200.0 809.4 L1201.2 810.0 L1202.5 810.0 L1203.8 811.1 L1205.0 811.2 L1206.2 811.1 L1207.5 811.7 L1209.6 809.2 L1211.7 794.6 L1212.9 794.3 L1214.2 794.3 L1215.4 794.2 L1216.7 788.8 L1217.9 787.4 L1219.2 786.2 L1220.4 784.5 L1221.7 784.2 L1222.8 782.1 L1224.0 781.7 L1225.1 778.5 L1226.2 777.5 L1226.7 624.2 L1227.9 631.3 L1229.2 638.3 L1230.6 644.3 L1231.9 650.5 L1233.3 655.0 L1234.7 651.4 L1236.1 648.8 L1237.5 646.7 L1238.8 638.8 L1240.0 632.5 L1241.2 631.9 L1242.3 631.7 L1243.5 632.9 L1244.7 632.2 L1245.8 630.8 L1247.1 639.9 L1248.3 646.7 L1249.6 640.7 L1250.8 636.1 L1252.1 633.6 L1253.3 628.3 L1254.7 630.9 L1256.1 631.0 L1257.5 632.5 L1258.8 640.7 L1260.0 648.3 L1261.1 650.5 L1262.2 655.2 L1263.3 659.2 L1264.6 657.1 L1265.8 653.4 L1267.1 650.2 L1268.3 645.8 L1269.5 649.4 L1270.7 649.4 L1271.8 651.2 L1273.0 653.5 L1274.2 656.7 L1275.4 659.2 L1276.7 661.7 L1278.0 675.8 L1279.2 669.4 L1280.4 663.2 L1281.7 655.0 L1282.8 657.8 L1284.0 659.8 L1285.2 662.3 L1286.3 663.5 L1287.5 665.8 L1288.6 664.0 L1289.7 660.6 L1290.8 660.0 L1291.9 655.3 L1293.1 648.1 L1294.2 643.3 L1295.3 642.9 L1296.4 640.4 L1297.5 638.3 L1299.2 628.3 L1300.3 630.2 L1301.4 632.2 L1302.5 635.8 L1303.8 634.7 L1305.0 635.0 L1306.2 636.2 L1307.5 637.3 L1308.8 636.3 L1310.0 638.3 L1311.2 633.9 L1312.3 632.2 L1313.5 629.2 L1314.7 625.8 L1315.8 627.2 L1316.9 628.3 L1318.0 631.1 L1319.2 632.5 L1320.6 633.2 L1321.9 636.3 L1323.3 639.2 L1324.4 640.3 L1325.6 643.0 L1326.7 643.3 L1327.8 645.3 L1328.9 645.3 L1330.0 646.7 L1331.1 648.1 L1332.2 650.4 L1333.3 653.3 L1335.0 660.0 L1336.4 662.1 L1337.8 662.2 L1339.2 662.5 L1340.4 658.2 L1341.7 655.0 L1343.1 662.5 L1344.4 672.8 L1345.8 681.7 L1347.0 680.5 L1348.2 678.1 L1349.3 676.0 L1350.5 675.5 L1351.7 673.3 L1352.9 668.7 L1354.2 660.9 L1355.4 654.5 L1356.7 650.0 L1357.8 647.3 L1358.9 645.3 L1360.0 643.9 L1361.1 640.2 L1362.2 639.8 L1363.3 636.7 L1364.4 641.3 L1365.6 644.5 L1366.7 648.3 L1368.1 642.2 L1369.4 639.2 L1370.8 632.5 L1372.2 638.9 L1373.6 647.3 L1375.0 653.3 L1376.1 664.8 L1377.2 677.0 L1378.3 690.0 L1379.7 681.8 L1381.1 671.7 L1382.5 663.3 L1383.6 665.2 L1384.7 664.4 L1385.8 665.0 L1386.9 666.1 L1388.1 668.1 L1389.2 670.8 L1390.3 669.4 L1391.5 669.0 L1392.7 668.6 L1393.8 665.2 L1395.0 665.0 L1396.4 659.4 L1397.8 653.6 L1399.2 649.2 L1400.3 656.1 L1401.4 659.3 L1402.5 665.8 L1403.7 665.7 L1404.8 666.9 L1406.0 669.0 L1407.2 671.6 L1408.3 671.7 L1409.6 676.5 L1410.8 679.8 L1412.1 684.2 L1413.3 686.7 L1414.4 684.3 L1415.6 679.3 L1416.7 675.4 L1417.8 674.0 L1418.9 670.0 L1420.0 665.8 L1421.2 667.4 L1422.5 671.7 L1423.9 666.3 L1425.3 659.7 L1426.7 654.2 L1428.1 653.2 L1429.4 652.6 L1430.8 652.5 L1432.2 648.8 L1433.6 645.5 L1435.0 644.2 L1436.2 648.1 L1437.5 652.9 L1438.8 659.2 L1440.0 662.5 L1441.4 658.4 L1442.8 657.7 L1444.2 653.3 L1445.3 655.8 L1446.4 659.6 L1447.5 663.3 L1448.6 661.5 L1449.7 658.7 L1450.8 655.0 L1452.1 648.8 L1453.3 641.6 L1454.6 636.8 L1455.8 630.8 L1457.1 629.6 L1458.3 629.2 L1459.4 632.7 L1460.6 632.7 L1461.7 635.8 L1462.8 634.0 L1463.9 634.3 L1465.0 631.7 L1466.2 624.4 L1467.4 619.7 L1468.7 614.2 L1469.8 618.7 L1471.0 622.1 L1472.2 623.4 L1473.3 628.3 L1474.4 616.9 L1475.6 606.9 L1476.7 598.3 L1477.9 596.3 L1479.2 591.7 L1480.4 571.7 L1481.7 553.3 L1483.3 548.3 L1484.4 546.9 L1485.6 545.2 L1486.7 541.7 L1487.8 538.4 L1488.9 535.4 L1490.0 533.3 L1491.2 524.0 L1492.5 511.7 L1493.8 514.5 L1495.0 516.7 L1496.2 523.4 L1497.5 531.7 L1498.8 526.1 L1500.0 519.2 L1501.4 519.4 L1502.8 520.1 L1504.2 521.7 L1505.4 510.1 L1506.7 501.7 L1508.1 507.2 L1509.4 512.4 L1510.8 515.8 L1512.2 511.0 L1513.6 506.7 L1515.0 500.0 L1516.2 491.5 L1517.4 485.3 L1518.7 479.2 L1519.9 491.6 L1521.2 505.6 L1522.5 516.7 L1523.8 521.0 L1525.0 522.5 L1526.2 515.5 L1527.5 509.2 L1528.6 513.1 L1529.7 518.4 L1530.8 523.3 L1532.1 525.4 L1533.3 527.5 L1534.4 524.7 L1535.6 518.2 L1536.7 515.0 L1538.1 511.5 L1539.4 506.9 L1540.8 501.7 L1542.1 515.2 L1543.3 526.7 L1544.7 527.8 L1546.1 527.6 L1547.5 527.5 L1548.6 519.7 L1549.8 513.0 L1550.4 501.3 L1551.4 493.0 L1552.7 484.7 L1553.6 487.5 L1554.4 481.5 L1555.6 486.8 L1556.8 480.3 L1558.1 486.2 L1559.3 480.5 L1560.2 484.7 L1561.8 498.0 L1563.5 491.3 L1565.2 479.3 L1566.8 481.8 L1568.1 493.0 L1569.3 501.3 L1571.0 506.8 L1572.2 506.8 L1573.5 508.0 L1575.0 511.7 L1576.2 510.4 L1577.3 510.9 L1578.5 507.8 L1579.7 507.4 L1580.8 507.5 L1582.2 510.5 L1583.6 511.1 L1585.0 514.2 L1586.1 510.0 L1587.2 507.1 L1588.3 505.8 L1589.4 509.1 L1590.6 511.4 L1591.7 515.0 L1592.9 532.4 L1594.2 546.7 L1595.8 567.5 L1597.1 551.6 L1598.3 533.3 L1599.4 534.9 L1600.6 532.6 L1601.7 533.3 L1603.3 555.0 L1604.4 558.7 L1605.6 563.7 L1606.7 570.0 L1607.9 567.1 L1609.2 564.8 L1610.4 561.1 L1611.7 558.3 L1612.8 559.1 L1613.9 561.4 L1615.0 563.3 L1616.7 554.2 L1617.8 554.3 L1618.9 554.2 L1620.0 553.3 L1621.7 545.0 L1622.9 545.8 L1624.2 545.0 L1625.4 553.6 L1626.7 560.0 L1628.3 562.5 L1630.0 553.3 L1631.2 558.9 L1632.5 563.3 L1634.2 560.0 L1635.3 568.0 L1636.4 579.4 L1637.5 587.5 L1639.2 563.3 L1640.8 573.3 L1641.7 552.5 L1643.5 551.7" fill="none" stroke="#16a34a" stroke-width="4.3" stroke-linejoin="round" stroke-linecap="round"/>
  </g>
  <!-- x axis -->
  <g stroke="#262626" stroke-width="2" fill="none">
    <path d="M262 891H1643.5"/>
    <path d="M383 891V910M573 891V910M767 891V910M957 891V910M1151 891V910M1341 891V910M1535 891V910"/>
  </g>
  <g font-size="25.6" fill="#333" text-anchor="middle">
    <text x="383" y="943.6">Jan '22</text>
    <text x="573" y="943.6">Jul '22</text>
    <text x="767" y="943.6">Jan '23</text>
    <text x="957" y="943.6">Jul '23</text>
    <text x="1151" y="943.6">Jan '24</text>
    <text x="1341" y="943.6">Jul '24</text>
    <text x="1535" y="943.6">Jan '25</text>
  </g>
  <!-- y axes -->
  <g font-size="25.6" fill="#333" text-anchor="end">
    <text x="232" y="498">6k</text>
    <text x="232" y="596">4.5k</text>
    <text x="232" y="692">3k</text>
    <text x="232" y="790">1.5k</text>
    <text x="232" y="886">0</text>
  </g>
  <g font-size="25.6" fill="#333" text-anchor="start">
    <text x="1674" y="498">600M</text>
    <text x="1674" y="596">450M</text>
    <text x="1674" y="692">300M</text>
    <text x="1674" y="790">150M</text>
    <text x="1674" y="886">0</text>
  </g>
  <g font-size="25.6" fill="#666" text-anchor="middle">
    <text transform="translate(162 648) rotate(-90)">BTC holdings</text>
    <text transform="translate(1758.3 648) rotate(90)">USD value of BTC holdings</text>
  </g>
  <!-- legend -->
  <g>
    <rect x="663" y="1004" width="26" height="10.5" fill="#f59e0b" fill-opacity="0.08"/>
    <rect x="902" y="1004" width="28" height="10.5" fill="#16a34a" fill-opacity="0.05"/>
    <path d="M664 1004H689" stroke="#ea580c" stroke-width="5.6" stroke-linecap="round"/>
    <text x="702" y="1014" font-size="25.6" fill="#333">BTC Holdings</text>
    <path d="M902 1004H930" stroke="#16a34a" stroke-width="4" stroke-linecap="round"/>
    <text x="942" y="1014" font-size="25.6" fill="#333">USD Value of BTC Holdings</text>
  </g>
</svg>
</body>
</html>
